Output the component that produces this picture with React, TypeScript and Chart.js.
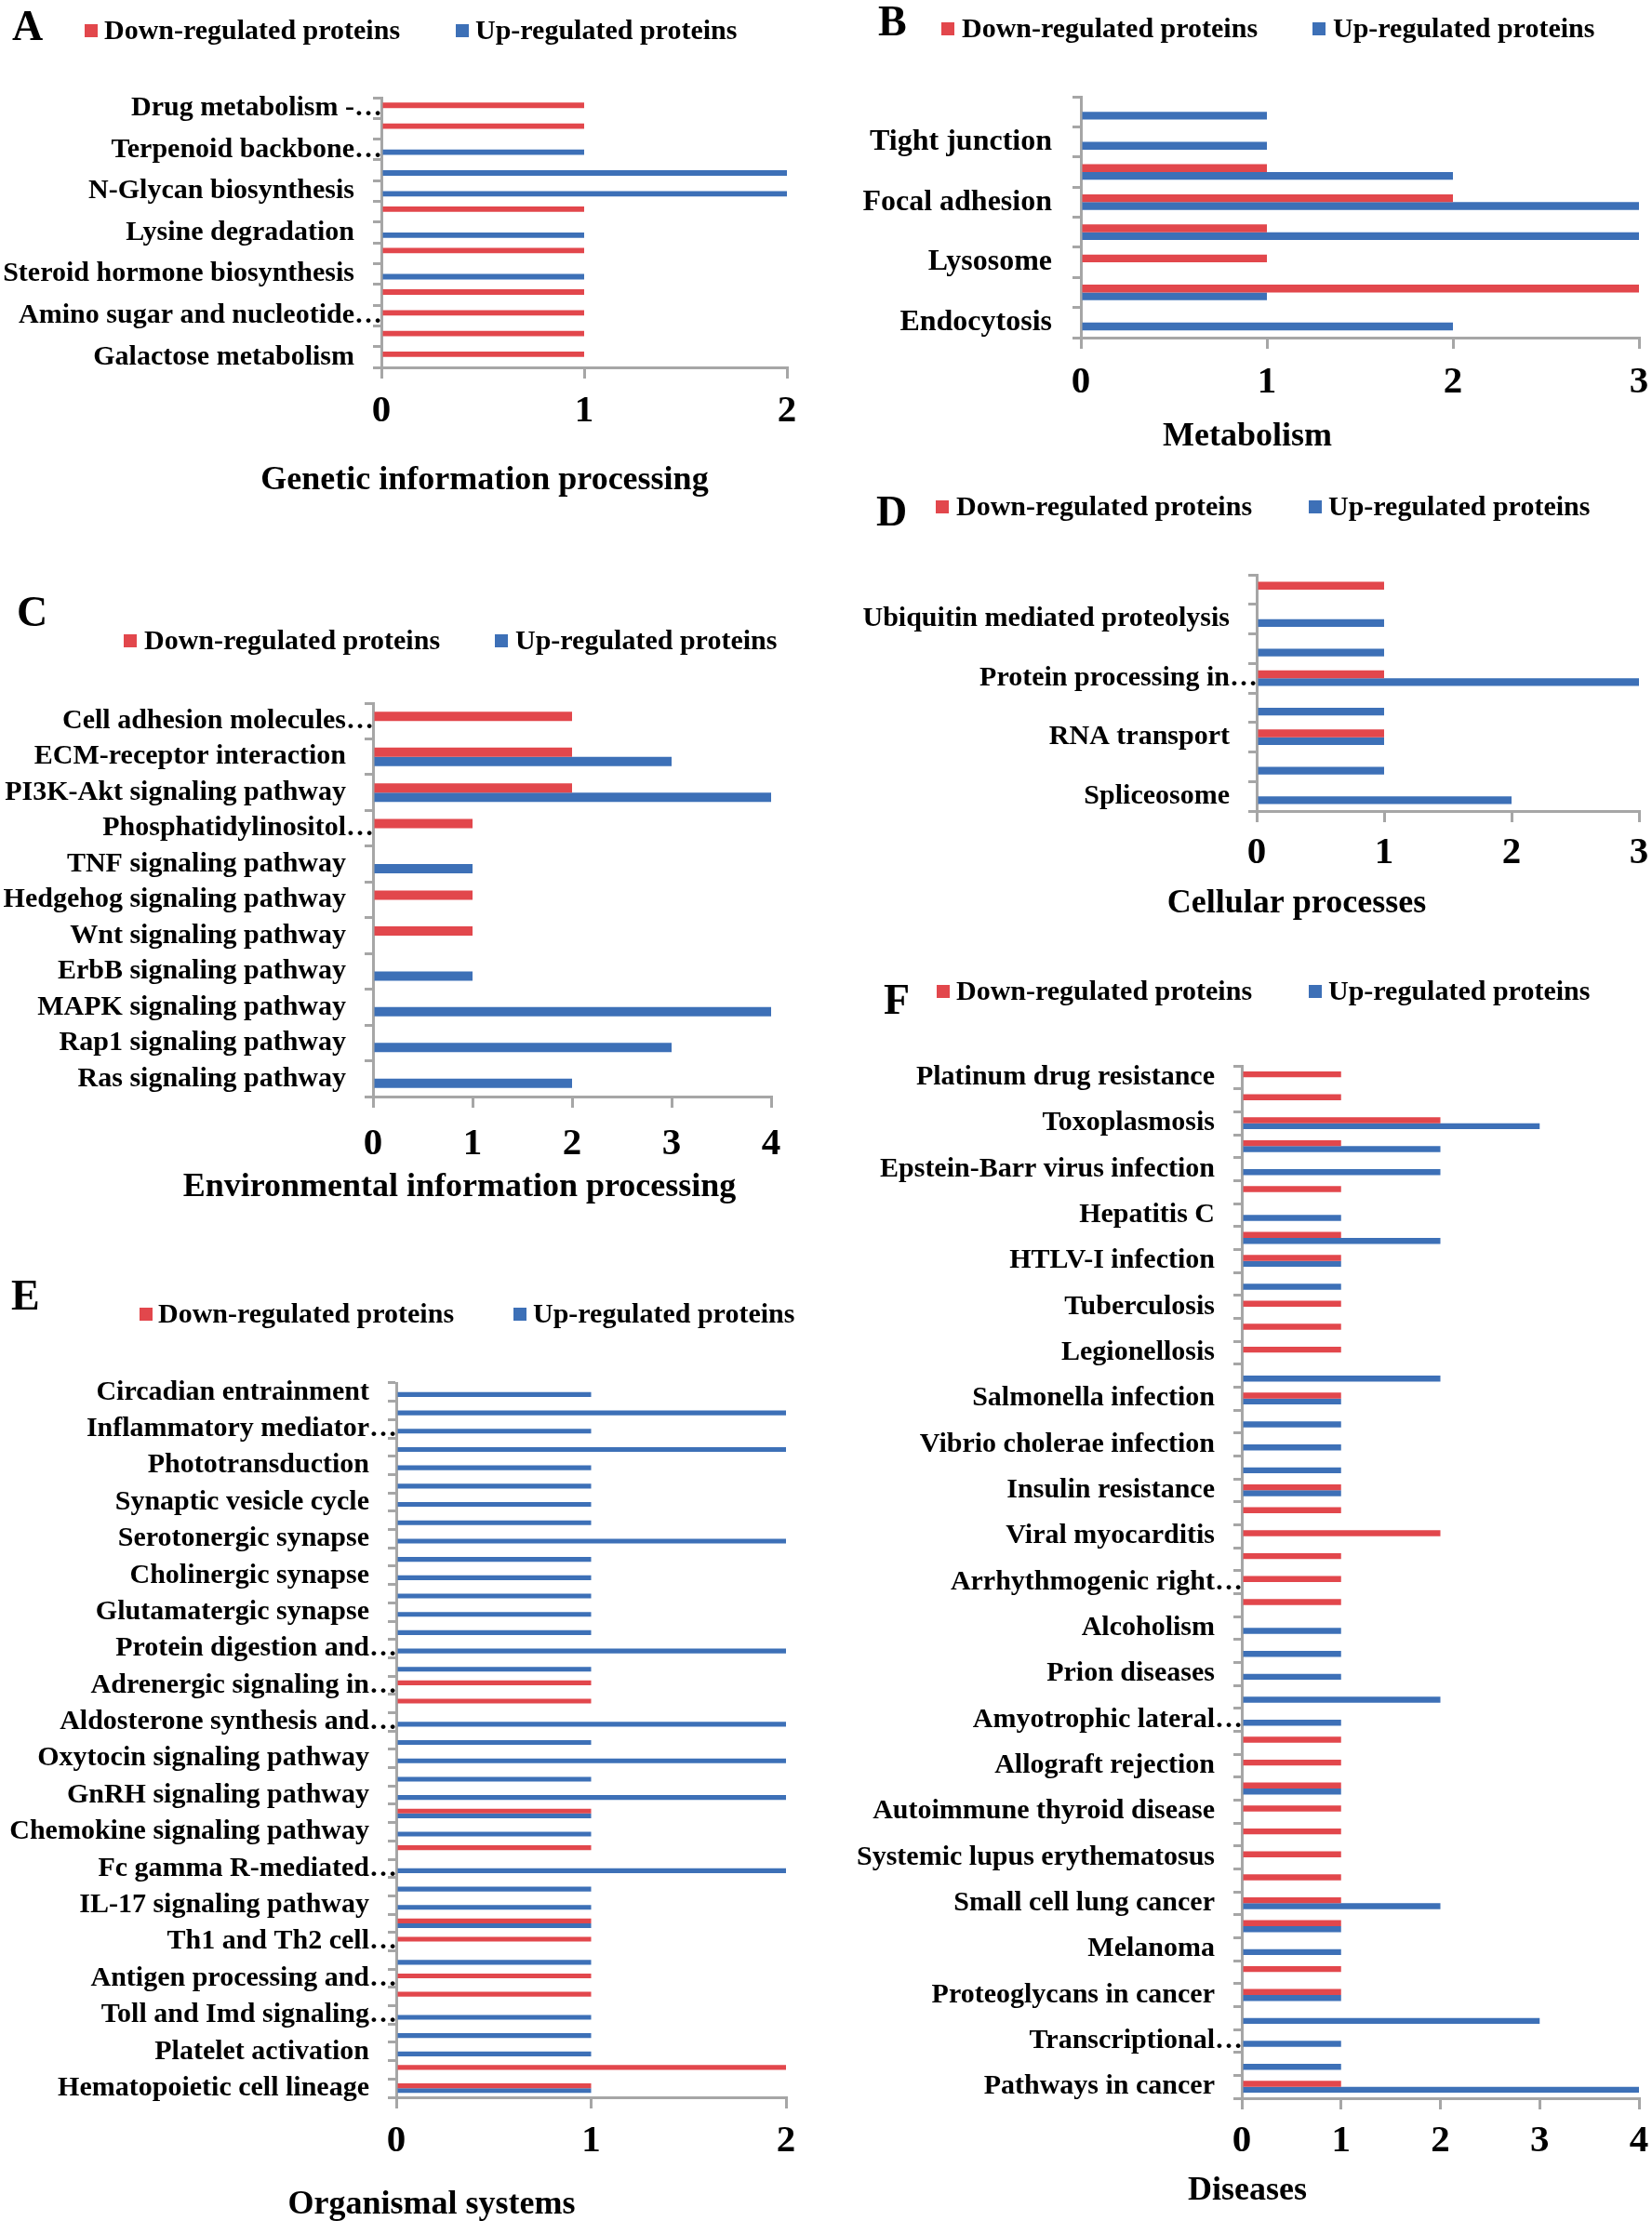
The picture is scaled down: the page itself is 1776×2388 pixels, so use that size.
import React, { useEffect, useRef } from 'react';
import { Chart, registerables } from 'chart.js';

Chart.register(...registerables);

const FONT = '"Liberation Serif", "Times New Roman", serif';
const RED = '#E2474C';
const BLUE = '#3D70B7';
const AXIS = '#A6A6A6';
const SERIES = ['Down-regulated proteins', 'Up-regulated proteins'];

// ---------- Panel A: Genetic information processing ----------
const labelsA = ['Drug metabolism -…', '', 'Terpenoid backbone…', '', 'N-Glycan biosynthesis', '', 'Lysine degradation', '', 'Steroid hormone biosynthesis', '', 'Amino sugar and nucleotide…', '', 'Galactose metabolism'];
const downA = [1, 1, 0, 0, 0, 1, 0, 1, 0, 1, 1, 1, 1];
const upA = [0, 0, 1, 2, 2, 0, 1, 0, 1, 0, 0, 0, 0];
const xMaxA = 2;

// ---------- Panel B: Metabolism ----------
const labelsB = ['', 'Tight junction', '', 'Focal adhesion', '', 'Lysosome', '', 'Endocytosis'];
const downB = [0, 0, 1, 2, 1, 1, 3, 0];
const upB = [1, 1, 2, 3, 3, 0, 1, 2];
const xMaxB = 3;

// ---------- Panel C: Environmental information processing ----------
const labelsC = ['Cell adhesion molecules…', 'ECM-receptor interaction', 'PI3K-Akt signaling pathway', 'Phosphatidylinositol…', 'TNF signaling pathway', 'Hedgehog signaling pathway', 'Wnt signaling pathway', 'ErbB signaling pathway', 'MAPK signaling pathway', 'Rap1 signaling pathway', 'Ras signaling pathway'];
const downC = [2, 2, 2, 1, 0, 1, 1, 0, 0, 0, 0];
const upC = [0, 3, 4, 0, 1, 0, 0, 1, 4, 3, 2];
const xMaxC = 4;

// ---------- Panel D: Cellular processes ----------
const labelsD = ['', 'Ubiquitin mediated proteolysis', '', 'Protein processing in…', '', 'RNA transport', '', 'Spliceosome'];
const downD = [1, 0, 0, 1, 0, 1, 0, 0];
const upD = [0, 1, 1, 3, 1, 1, 1, 2];
const xMaxD = 3;

// ---------- Panel E: Organismal systems ----------
const labelsE = [
  'Circadian entrainment', '', 'Inflammatory mediator…', '', 'Phototransduction', '', 'Synaptic vesicle cycle', '',
  'Serotonergic synapse', '', 'Cholinergic synapse', '', 'Glutamatergic synapse', '', 'Protein digestion and…', '',
  'Adrenergic signaling in…', '', 'Aldosterone synthesis and…', '', 'Oxytocin signaling pathway', '', 'GnRH signaling pathway', '',
  'Chemokine signaling pathway', '', 'Fc gamma R-mediated…', '', 'IL-17 signaling pathway', '', 'Th1 and Th2 cell…', '',
  'Antigen processing and…', '', 'Toll and Imd signaling…', '', 'Platelet activation', '', 'Hematopoietic cell lineage',
];
const downE = [0, 0, 0, 0, 0, 0, 0, 0, 0, 0, 0, 0, 0, 0, 0, 0, 1, 1, 0, 0, 0, 0, 0, 1, 0, 1, 0, 0, 0, 1, 1, 0, 1, 1, 0, 0, 0, 2, 1];
const upE = [1, 2, 1, 2, 1, 1, 1, 1, 2, 1, 1, 1, 1, 1, 2, 1, 0, 0, 2, 1, 2, 1, 2, 1, 1, 0, 2, 1, 1, 1, 0, 1, 0, 0, 1, 1, 1, 0, 1];
const xMaxE = 2;

// ---------- Panel F: Diseases ----------
const labelsF = [
  'Platinum drug resistance', '', 'Toxoplasmosis', '', 'Epstein-Barr virus infection', '', 'Hepatitis C', '',
  'HTLV-I infection', '', 'Tuberculosis', '', 'Legionellosis', '', 'Salmonella infection', '',
  'Vibrio cholerae infection', '', 'Insulin resistance', '', 'Viral myocarditis', '', 'Arrhythmogenic right…', '',
  'Alcoholism', '', 'Prion diseases', '', 'Amyotrophic lateral…', '', 'Allograft rejection', '',
  'Autoimmune thyroid disease', '', 'Systemic lupus erythematosus', '', 'Small cell lung cancer', '', 'Melanoma', '',
  'Proteoglycans in cancer', '', 'Transcriptional…', '', 'Pathways in cancer',
];
const downF = [1, 1, 2, 1, 0, 1, 0, 1, 1, 0, 1, 1, 1, 0, 1, 0, 0, 0, 1, 1, 2, 1, 1, 1, 0, 0, 0, 0, 0, 1, 1, 1, 1, 1, 1, 1, 1, 1, 0, 1, 1, 0, 0, 0, 1];
const upF = [0, 0, 3, 2, 2, 0, 1, 2, 1, 1, 0, 0, 0, 2, 1, 1, 1, 1, 1, 0, 0, 0, 0, 0, 1, 1, 1, 2, 1, 0, 0, 1, 0, 0, 0, 0, 2, 1, 1, 0, 1, 3, 1, 1, 4];
const xMaxF = 4;

type Spec = {
  letter: string;
  title: string;
  labels: string[];
  down: number[];
  up: number[];
  xMax: number;
  box: [number, number, number, number];
  area: [number, number, number, number];
  letterPos: [number, number];
  legendBase: number;
  legendX: [number, number, number, number];
  titlePos: [number, number];
  yFont: number;
  xPad: number;
};

const PANELS: Spec[] = [
  {
    letter: 'A', title: 'Genetic information processing', labels: labelsA, down: downA, up: upA, xMax: xMaxA,
    box: [0, 0, 880, 560], area: [410, 105, 846, 395], letterPos: [13, 43], legendBase: 42,
    legendX: [91, 112, 490, 511], titlePos: [521, 526], yFont: 30, xPad: 11,
  },
  {
    letter: 'B', title: 'Metabolism', labels: labelsB, down: downB, up: upB, xMax: xMaxB,
    box: [880, 0, 922, 500], area: [1162, 104, 1762, 363], letterPos: [944, 38], legendBase: 40,
    legendX: [1012, 1034, 1411, 1433], titlePos: [1341, 479], yFont: 32, xPad: 12,
  },
  {
    letter: 'C', title: 'Environmental information processing', labels: labelsC, down: downC, up: upC, xMax: xMaxC,
    box: [0, 610, 880, 690], area: [401, 756, 829, 1179], letterPos: [18, 673], legendBase: 698,
    legendX: [133, 155, 532, 554], titlePos: [494, 1286], yFont: 30, xPad: 15,
  },
  {
    letter: 'D', title: 'Cellular processes', labels: labelsD, down: downD, up: upD, xMax: xMaxD,
    box: [880, 505, 922, 495], area: [1351, 618, 1762, 872], letterPos: [942, 565], legendBase: 554,
    legendX: [1006, 1028, 1407, 1428], titlePos: [1394, 981], yFont: 30, xPad: 9,
  },
  {
    letter: 'E', title: 'Organismal systems', labels: labelsE, down: downE, up: upE, xMax: xMaxE,
    box: [0, 1360, 880, 1028], area: [426, 1487, 845, 2255], letterPos: [12, 1408], legendBase: 1422,
    legendX: [150, 170, 552, 573], titlePos: [464, 2380], yFont: 30, xPad: 11,
  },
  {
    letter: 'F', title: 'Diseases', labels: labelsF, down: downF, up: upF, xMax: xMaxF,
    box: [880, 1030, 922, 1358], area: [1335, 1146, 1762, 2256], letterPos: [950, 1090], legendBase: 1075,
    legendX: [1007, 1028, 1407, 1428], titlePos: [1341, 2365], yFont: 30, xPad: 10,
  },
];

function decorPlugin(s: Spec) {
  return {
    id: 'panelDecor' + s.letter,
    afterDraw(chart: any) {
      const ctx = chart.ctx as CanvasRenderingContext2D;
      const [bx, by] = s.box;
      ctx.save();
      ctx.fillStyle = '#000';
      ctx.textBaseline = 'alphabetic';
      // panel letter
      ctx.textAlign = 'left';
      ctx.font = `bold 46px ${FONT}`;
      ctx.fillText(s.letter, s.letterPos[0] - bx, s.letterPos[1] - by);
      // legend
      const [rs, rt, bs, bt] = s.legendX;
      const base = s.legendBase - by;
      ctx.fillStyle = RED;
      ctx.fillRect(rs - bx, base - 16, 14, 14);
      ctx.fillStyle = BLUE;
      ctx.fillRect(bs - bx, base - 16, 14, 14);
      ctx.fillStyle = '#000';
      ctx.font = `bold 30px ${FONT}`;
      ctx.fillText(SERIES[0], rt - bx, base);
      ctx.fillText(SERIES[1], bt - bx, base);
      // axis title
      ctx.textAlign = 'center';
      ctx.font = `bold 36px ${FONT}`;
      ctx.fillText(s.title, s.titlePos[0] - bx, s.titlePos[1] - by);
      ctx.restore();
    },
  };
}

// Excel lets truncated ("…") labels run up to the axis, while full labels keep a gap.
function yLabel(this: any, _v: any, i: number) {
  const lab = this.chart.data.labels[i] as string;
  if (!lab) return '';
  return lab.endsWith('…') ? lab : lab + '\u2003';
}

function Panel({ s }: { s: Spec }) {
  const ref = useRef<HTMLCanvasElement | null>(null);
  useEffect(() => {
    if (!ref.current) return;
    const [bx, by, bw, bh] = s.box;
    const [al, at, ar, ab] = s.area;
    const chart = new Chart(ref.current, {
      type: 'bar',
      data: {
        labels: s.labels,
        datasets: [
          { label: SERIES[0], data: s.down, backgroundColor: RED, borderWidth: 0, categoryPercentage: 0.52, barPercentage: 1 },
          { label: SERIES[1], data: s.up, backgroundColor: BLUE, borderWidth: 0, categoryPercentage: 0.52, barPercentage: 1 },
        ],
      },
      options: {
        indexAxis: 'y',
        responsive: false,
        animation: false,
        devicePixelRatio: 1,
        layout: { padding: { top: at - by, right: bx + bw - ar, left: 0, bottom: 0 } },
        plugins: { legend: { display: false }, tooltip: { enabled: false } },
        scales: {
          y: {
            type: 'category',
            offset: true,
            grid: { offset: true, drawOnChartArea: false, drawTicks: true, tickLength: 9, color: AXIS, lineWidth: 3 },
            border: { display: true, color: AXIS, width: 3 },
            ticks: { autoSkip: false, padding: -10, color: '#000', callback: yLabel, font: { family: FONT, weight: 'bold', size: s.yFont } },
            afterFit: (sc: any) => { sc.width = al - bx; },
          },
          x: {
            type: 'linear',
            min: 0,
            max: s.xMax,
            grid: { drawOnChartArea: false, drawTicks: true, tickLength: 12, color: AXIS, lineWidth: 3 },
            border: { display: true, color: AXIS, width: 3 },
            ticks: { stepSize: 1, padding: s.xPad, color: '#000', font: { family: FONT, weight: 'bold', size: 41 } },
            afterFit: (sc: any) => { sc.height = by + bh - ab; },
          },
        },
      } as any,
      plugins: [decorPlugin(s)],
    });
    return () => chart.destroy();
  }, [s]);
  const [bx, by, bw, bh] = s.box;
  return (
    <canvas
      ref={ref}
      width={bw}
      height={bh}
      style={{ position: 'absolute', left: bx, top: by, width: bw, height: bh }}
    />
  );
}

export default function App() {
  return (
    <div style={{ position: 'absolute', left: 0, top: 0, width: 1776, height: 2388, background: '#fff', overflow: 'hidden' }}>
      {PANELS.map((s) => (
        <Panel key={s.letter} s={s} />
      ))}
    </div>
  );
}
